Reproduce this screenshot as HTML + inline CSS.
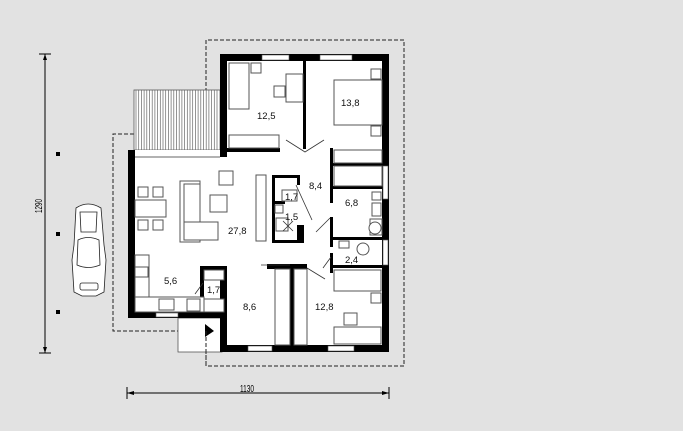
<!DOCTYPE html>
<html><head><meta charset="utf-8"><style>
html,body{margin:0;padding:0;background:#e2e2e2;}
svg{display:block;font-family:"Liberation Sans",sans-serif;}
</style></head><body>
<svg width="683" height="431" viewBox="0 0 683 431" xmlns="http://www.w3.org/2000/svg">
<rect width="683" height="431" fill="#e2e2e2"/>
<!-- dashed outlines -->
<g fill="none" stroke="#222" stroke-width="1" stroke-dasharray="4,2">
<polyline points="206,134 206,40 404,40 404,366 206,366 206,331"/>
<polyline points="206,134 113,134 113,331 205,331"/>
</g>
<!-- terrace stripes -->
<rect x="134" y="90" width="86" height="60" fill="#fff" stroke="#555" stroke-width="0.8"/>
<g stroke="#666" stroke-width="0.7">
<path d="M136 90V150M138.7 90V150M141.4 90V150M144.1 90V150M146.8 90V150M149.5 90V150M152.2 90V150M154.9 90V150M157.6 90V150M160.3 90V150M163 90V150M165.7 90V150M168.4 90V150M171.1 90V150M173.8 90V150M176.5 90V150M179.2 90V150M181.9 90V150M184.6 90V150M187.3 90V150M190 90V150M192.7 90V150M195.4 90V150M198.1 90V150M200.8 90V150M203.5 90V150M206.2 90V150M208.9 90V150M211.6 90V150M214.3 90V150M217 90V150"/>
</g>
<!-- interior fills -->
<rect x="220" y="54" width="169" height="298" fill="#fff"/>
<rect x="128" y="150" width="100" height="168" fill="#fff"/>
<rect x="178" y="318" width="44" height="34" fill="#fff" stroke="#555" stroke-width="0.8"/>
<line x1="135" y1="157" x2="220" y2="157" stroke="#666" stroke-width="1"/>
<!-- walls -->
<g fill="#000">
<rect x="220" y="54" width="169" height="7"/>
<rect x="220" y="54" width="7" height="103"/>
<rect x="382" y="54" width="7" height="298"/>
<rect x="303" y="61" width="3" height="88"/>
<rect x="227" y="148" width="53" height="4"/>
<rect x="128" y="150" width="7" height="168"/>
<rect x="128" y="312" width="99" height="6"/>
<rect x="220" y="267" width="7" height="85"/>
<rect x="220" y="345" width="169" height="7"/>
<rect x="330" y="148" width="3" height="55"/>
<rect x="330" y="217" width="3" height="30"/>
<rect x="330" y="253" width="3" height="20"/>
<rect x="333" y="163" width="49" height="3"/>
<rect x="333" y="186" width="49" height="3"/>
<rect x="333" y="237" width="49" height="3"/>
<rect x="333" y="265" width="49" height="3"/>
<rect x="272" y="175" width="28" height="3"/>
<rect x="272" y="175" width="3" height="68"/>
<rect x="297" y="175" width="3" height="10"/>
<rect x="275" y="201" width="10" height="3"/>
<rect x="297" y="225" width="7" height="18"/>
<rect x="272" y="240" width="32" height="3"/>
<rect x="267" y="264" width="40" height="5"/>
<rect x="290" y="264" width="4" height="82"/>
<rect x="200" y="266" width="27" height="4"/>
<rect x="200" y="266" width="4" height="33"/>
</g>
<!-- windows -->
<g fill="#fff" stroke="#555" stroke-width="0.6">
<rect x="262" y="55" width="27" height="5"/>
<rect x="320" y="55" width="32" height="5"/>
<rect x="383" y="166" width="5" height="33"/>
<rect x="383" y="240" width="5" height="25"/>
<rect x="156" y="313" width="22" height="4"/>
<rect x="248" y="346" width="24" height="5"/>
<rect x="328" y="346" width="26" height="5"/>
</g>
<!-- furniture -->
<g fill="#fff" stroke="#555" stroke-width="1">
<rect x="229" y="63" width="20" height="46"/>
<rect x="251" y="63" width="10" height="10"/>
<rect x="286" y="74" width="17" height="28"/>
<rect x="274" y="86" width="11" height="11"/>
<rect x="229" y="135" width="50" height="13"/>
<rect x="334" y="80" width="48" height="45"/>
<rect x="371" y="69" width="10" height="10"/>
<rect x="371" y="126" width="10" height="10"/>
<rect x="334" y="150" width="48" height="13"/>
<rect x="334" y="166" width="48" height="20"/>
<rect x="372" y="192" width="9" height="8"/>
<rect x="372" y="203" width="9" height="13"/>
<rect x="370" y="219" width="12" height="16"/>
<circle cx="375" cy="228" r="6"/>
<rect x="339" y="241" width="10" height="7"/>
<circle cx="363" cy="249" r="6"/>
<rect x="334" y="270" width="47" height="21"/>
<rect x="371" y="293" width="10" height="10"/>
<rect x="344" y="313" width="13" height="12"/>
<rect x="334" y="327" width="47" height="17"/>
<rect x="256" y="175" width="10" height="66"/>
<rect x="282" y="190" width="15" height="11"/>
<rect x="275" y="205" width="8" height="8"/>
<rect x="276" y="218" width="12" height="13"/>
<rect x="219" y="171" width="14" height="14"/>
<rect x="210" y="195" width="17" height="17"/>
<rect x="180" y="181" width="20" height="61"/>
<rect x="184" y="184" width="16" height="56"/>
<rect x="184" y="222" width="34" height="18"/>
<rect x="138" y="187" width="10" height="10"/>
<rect x="153" y="187" width="10" height="10"/>
<rect x="135" y="200" width="31" height="17"/>
<rect x="138" y="220" width="10" height="10"/>
<rect x="153" y="220" width="10" height="10"/>
<rect x="135" y="255" width="14" height="42"/>
<rect x="135" y="267" width="13" height="10"/>
<rect x="135" y="297" width="69" height="15"/>
<rect x="159" y="299" width="15" height="11"/>
<rect x="187" y="299" width="13" height="12"/>
<rect x="204" y="270" width="20" height="10"/>
<rect x="204" y="299" width="20" height="13"/>
<rect x="275" y="269" width="15" height="76"/>
<rect x="294" y="269" width="13" height="76"/>
</g>
<g stroke="#333" stroke-width="0.8" fill="none">
<path d="M286 140L305 152L324 140"/>
<path d="M296 185L312 220"/>
<path d="M330 218L316 232"/>
<path d="M283 221L293 231M293 221L283 231"/>
<path d="M331 257L323 268"/>
<path d="M307 268L325 279"/>
<path d="M203 283L195 294"/>
<path d="M261 265L290 265"/>
</g>
<path d="M205 324L214 331L205 337Z" fill="#000"/>
<line x1="206" y1="331" x2="206" y2="366" stroke="#222" stroke-dasharray="4,2"/>
<!-- labels -->
<g font-size="9.5" fill="#111">
<text x="257" y="119">12,5</text>
<text x="341" y="106">13,8</text>
<text x="309" y="189">8,4</text>
<text x="285" y="200">1,7</text>
<text x="285" y="220">1,5</text>
<text x="345" y="206">6,8</text>
<text x="228" y="234">27,8</text>
<text x="345" y="263">2,4</text>
<text x="164" y="284">5,6</text>
<text x="207" y="293">1,7</text>
<text x="243" y="310">8,6</text>
<text x="315" y="310">12,8</text>
</g>
<!-- dimensions -->
<g stroke="#000" stroke-width="1">
<line x1="45" y1="54" x2="45" y2="353"/>
<line x1="39" y1="54" x2="51" y2="54"/>
<line x1="39" y1="353" x2="51" y2="353"/>
<line x1="127" y1="393" x2="389" y2="393"/>
<line x1="127" y1="387" x2="127" y2="399"/>
<line x1="389" y1="387" x2="389" y2="399"/>
</g>
<path d="M45 54l-2 6h4zM45 353l-2-6h4zM127 393l7-2v4zM389 393l-7-2v4z" fill="#000"/>
<text x="240" y="392" font-size="10" fill="#000" textLength="14" lengthAdjust="spacingAndGlyphs">1130</text>
<text transform="translate(42,213) rotate(-90)" font-size="10" fill="#000" textLength="14" lengthAdjust="spacingAndGlyphs">1290</text>
<rect x="56" y="152" width="4" height="4" fill="#000"/>
<rect x="56" y="232" width="4" height="4" fill="#000"/>
<rect x="56" y="310" width="4" height="4" fill="#000"/>
<!-- car -->
<g fill="#fff" stroke="#222" stroke-width="0.8">
<path d="M76 208 Q88 200 101 208 L104 245 L106 260 L104 292 L96 296 L82 296 L74 292 L72 260 L74 245 Z"/>
<path d="M80 212 L97 212 L96 232 L81 232 Z"/>
<path d="M78 240 Q88 235 99 240 L100 265 Q88 270 77 265 Z"/>
<rect x="80" y="283" width="18" height="7" rx="2"/>
</g>
</svg>
</body></html>
